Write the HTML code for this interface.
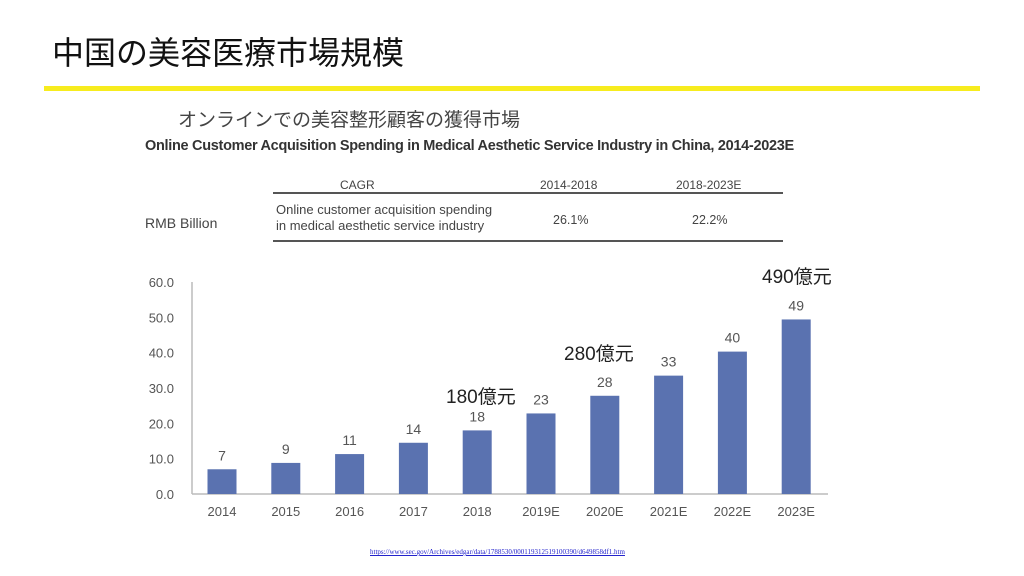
<!DOCTYPE html>
<html><head><meta charset="utf-8"><style>
body{margin:0;width:1024px;height:576px;background:#fff;overflow:hidden;font-family:"Liberation Sans","Noto Sans CJK JP",sans-serif;position:relative}
.a{position:absolute;white-space:nowrap}
</style></head><body>
<div class="a" style="left:52px;top:28px;font-size:32px;color:#111">中国の美容医療市場規模</div>
<div class="a" style="left:44px;top:86px;width:936px;height:5px;background:#f7ec1e"></div>
<div class="a" style="left:178px;top:105px;font-size:19px;color:#444">オンラインでの美容整形顧客の獲得市場</div>
<div class="a" style="left:145px;top:138px;font-size:14.5px;font-weight:bold;color:#333;letter-spacing:-0.3px">Online Customer Acquisition Spending in Medical Aesthetic Service Industry in China, 2014-2023E</div>
<div class="a" style="left:145px;top:215px;font-size:14px;color:#444">RMB Billion</div>
<div class="a" style="left:273px;top:192px;width:510px;height:2px;background:#555"></div>
<div class="a" style="left:273px;top:240px;width:510px;height:2px;background:#555"></div>
<div class="a" style="left:340px;top:178px;font-size:12px;color:#444">CAGR</div>
<div class="a" style="left:540px;top:178px;font-size:12px;color:#444">2014-2018</div>
<div class="a" style="left:676px;top:178px;font-size:12px;color:#444">2018-2023E</div>
<div class="a" style="left:276px;top:202px;font-size:13px;line-height:16px;color:#444">Online customer acquisition spending<br>in medical aesthetic service industry</div>
<div class="a" style="left:553px;top:213px;font-size:12.5px;color:#444">26.1%</div>
<div class="a" style="left:692px;top:213px;font-size:12.5px;color:#444">22.2%</div>
<svg class="a" style="left:0;top:0" width="1024" height="576"><g id="g"></g></svg>
<div class="a" style="left:446px;top:382px;font-size:19px;color:#222">180億元</div>
<div class="a" style="left:564px;top:339px;font-size:19px;color:#222">280億元</div>
<div class="a" style="left:762px;top:262px;font-size:19px;color:#222">490億元</div>
<div class="a" style="left:370px;top:548px;font-size:7px;color:#22c;text-decoration:underline;font-family:'Liberation Serif',serif">https://www.sec.gov/Archives/edgar/data/1788530/000119312519100390/d649858df1.htm</div>
<script>
const categories=["2014","2015","2016","2017","2018","2019E","2020E","2021E","2022E","2023E"];
const values=[7.0,8.8,11.3,14.5,18.0,22.8,27.8,33.5,40.3,49.4];
const valueLabels=["7","9","11","14","18","23","28","33","40","49"];
const yTicks=[0,10,20,30,40,50,60];
const ns="http://www.w3.org/2000/svg",g=document.getElementById('g');
const y=v=>494-v*(212/60), x=i=>222+i*63.8;
function el(t,a){const e=document.createElementNS(ns,t);for(const k in a)e.setAttribute(k,a[k]);g.appendChild(e);return e;}
let ax=el('line',{x1:192,y1:282,x2:192,y2:494,stroke:'#bbb','stroke-width':1.5});


let bx=el('line',{x1:192,y1:494,x2:828,y2:494,stroke:'#bbb','stroke-width':1.5});


yTicks.forEach(t=>{const e=el('text',{x:174,y:y(t)+5,'text-anchor':'end','font-size':13,fill:'#555','font-family':'Liberation Sans'});e.textContent=t.toFixed(1);

});
categories.forEach((c,i)=>{
const r=el('rect',{x:x(i)-14.5,y:y(values[i]),width:29,height:494-y(values[i]),fill:'#5a72b0'});


const l=el('text',{x:x(i),y:y(values[i])-9,'text-anchor':'middle','font-size':14,fill:'#555','font-family':'Liberation Sans'});l.textContent=valueLabels[i];


const t=el('text',{x:x(i),y:516,'text-anchor':'middle','font-size':13,fill:'#555','font-family':'Liberation Sans'});t.textContent=c;


});
</script>
</body></html>
